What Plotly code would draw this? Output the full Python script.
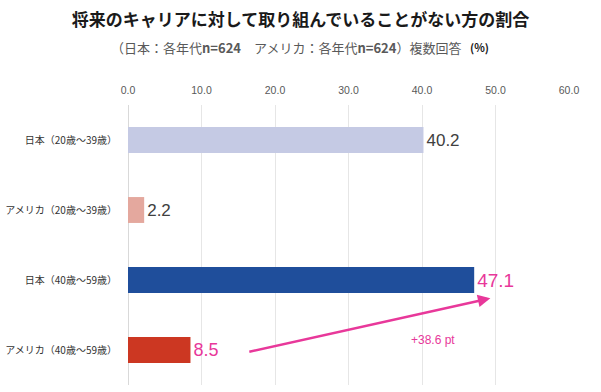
import plotly.graph_objects as go

categories = ["日本（20歳～39歳）", "アメリカ（20歳～39歳）", "日本（40歳～59歳）", "アメリカ（40歳～59歳）"]
values = [40.2, 2.2, 47.1, 8.5]
bar_colors = ["#c5cae4", "#e4a89e", "#1f4e9b", "#cc3722"]
label_colors = ["#404040", "#404040", "#e8389a", "#e8389a"]
label_sizes = [17, 17, 19, 18]
x_ticks = [0, 10, 20, 30, 40, 50, 60]

diff = round(values[2] - values[3], 1)

fig = go.Figure(go.Bar(
    y=categories, x=values, orientation="h",
    marker=dict(color=bar_colors, line=dict(width=0)),
    text=[f"{v:.1f}" for v in values], textposition="outside",
    textfont=dict(color=label_colors, size=label_sizes, family="Liberation Sans, Arial"),
    cliponaxis=False, width=0.37,
))

fig.update_layout(
    width=601, height=392,
    margin=dict(l=128, r=32, t=105, b=7),
    paper_bgcolor="white", plot_bgcolor="white",
    showlegend=False,
    font=dict(family="Noto Sans CJK JP, Liberation Sans", color="#404040"),
    title=dict(text="<b>将来のキャリアに対して取り組んでいることがない方の割合</b>",
               x=0.5, xref="container", xanchor="center", y=0.948, yref="container", yanchor="middle",
               font=dict(size=17, color="#1a1a1a")),
    xaxis=dict(side="top", range=[0, 60], tickvals=x_ticks, tickformat=".1f",
               showgrid=True, gridcolor="#e6e6e6", gridwidth=1, zeroline=True,
               zerolinecolor="#d9d9d9", zerolinewidth=1, automargin=False,
               tickfont=dict(size=10.5, color="#595959", family="Liberation Sans, Arial"),
               ticks="", ticklabelstandoff=8, fixedrange=True),
    yaxis=dict(autorange="reversed", tickfont=dict(size=10, color="#333333"), automargin=False,
               ticks="", ticklabelstandoff=10, showgrid=False),
    bargap=0.63,
)

fig.add_annotation(x=(286 - 128) / 441, y=1, xref="paper", yref="paper", yshift=58, xanchor="center", yanchor="middle",
                   text="（日本：各年代<b>n=624</b>　アメリカ：各年代<b>n=624</b>）複数回答",
                   showarrow=False, font=dict(size=13, color="#595959"))
fig.add_annotation(x=(479 - 128) / 441, y=1, xref="paper", yref="paper", yshift=58, xanchor="center", yanchor="middle",
                   text="<b>(%)</b>", showarrow=False, font=dict(size=11, color="#1a1a1a"))

fig.add_annotation(x=49.3, y=2.26, ax=16.3, ay=3.03, xref="x", yref="y", axref="x", ayref="y",
                   showarrow=True, arrowhead=2, arrowsize=1, arrowwidth=2.5, arrowcolor="#e8389a", text="")
fig.add_annotation(x=41.5, y=2.85, xref="x", yref="y", text=f"+{diff:.1f} pt", showarrow=False,
                   font=dict(size=12, color="#e8389a", family="Liberation Sans, Arial"))

fig.write_html("out.html", config={"displayModeBar": False},
               post_script="document.body.style.margin='0';")
